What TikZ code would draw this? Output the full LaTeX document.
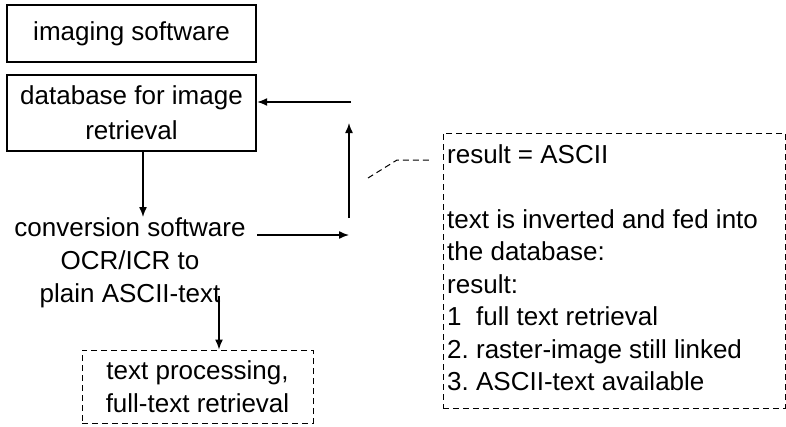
\documentclass[tikz,border=0pt]{standalone}
\usepackage{fontspec}
\setmainfont{Liberation Sans}
\usetikzlibrary{arrows.meta}
\begin{document}
\begin{tikzpicture}[x=1pt,y=-1pt,
  every node/.style={font=\fontsize{26}{33}\selectfont},
  solidbox/.style={draw,line width=1.8pt,inner sep=0pt,align=center},
  dbox/.style={draw,line width=1pt,dash pattern=on 6pt off 4pt,inner sep=0pt},
  arr/.style={line width=1.4pt,-{Latex[length=10pt,width=8pt]}},
  plainline/.style={line width=1.4pt}]
\useasboundingbox (0,0) rectangle (786,426);
\node[solidbox,minimum width=249pt,minimum height=57pt] (img) at (131.5,33.5) {imaging software};
\node[solidbox,line width=2.4pt,minimum width=249pt,minimum height=76pt,font=\fontsize{26}{35}\selectfont] (db) at (131.5,113) {database for image\\retrieval};
\node[align=center,inner sep=0pt] (conv) at (130,263) {conversion software\\OCR/ICR to\\plain ASCII-text};
\node[dbox,minimum width=231pt,minimum height=73pt,align=center] (tp) at (197.5,386.5) {text processing,\\full-text retrieval};
\node[dbox,minimum width=342pt,minimum height=275pt] (rbox) at (614,270.5) {};
\node[anchor=north west,align=left,inner sep=0pt,font=\fontsize{26}{32.5}\selectfont] (rtext) at (447,144) {result = ASCII\\[32.5pt]text is inverted and fed into\\the database:\\result:\\1~~full text retrieval\\2.~raster-image still linked\\3.~ASCII-text available};
% connectors
\coordinate (c1) at (349,235);
\coordinate (c2a) at (349,218);
\coordinate (c2b) at (349,123);
\coordinate (c3) at (351,102);
\coordinate (d1) at (368,178);
\coordinate (d2) at (397,160);
\coordinate (d3) at (430,160);
\draw[arr] (db.south -| 143,0) -- (143,217);
\draw[arr] (257,235) -- (c1);
\draw[arr] (c2a) -- (c2b);
\draw[arr] (c3) -- (db.east |- c3);
\draw[arr] (219,296) -- (tp.north -| 219,0);
\draw[line width=1pt,dash pattern=on 6pt off 4pt] (d1) -- (d2) -- (d3);
\end{tikzpicture}
\end{document}
